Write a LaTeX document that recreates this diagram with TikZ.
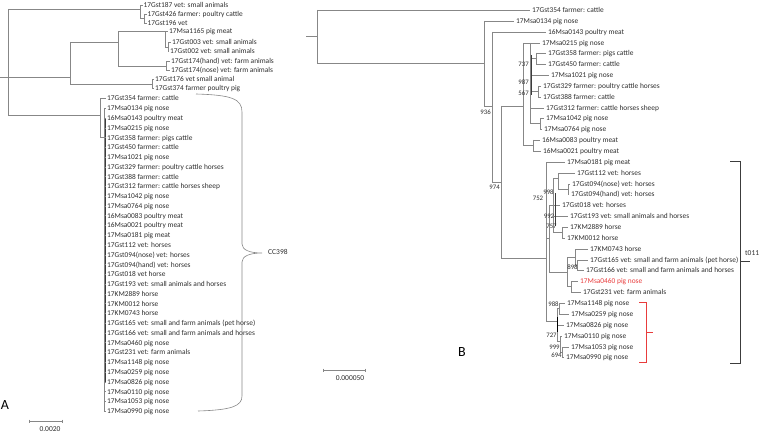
\documentclass[tikz,border=0pt]{standalone}
\usepackage{fontspec}
\setmainfont{Carlito}
\definecolor{tg}{RGB}{135,135,135}
\definecolor{tgd}{RGB}{60,60,60}
\definecolor{tx}{RGB}{45,45,45}
\definecolor{rd}{RGB}{232,60,60}
\begin{document}
\begin{tikzpicture}[x=1pt,y=-1pt,
  br/.style={draw=tg,line width=0.6pt},
  brd/.style={draw=tgd,line width=0.6pt},
  lf/.style={anchor=west,inner sep=0pt,text=tx,font=\fontsize{7.4}{8}\selectfont,text height=4.8pt,text depth=1.5pt,yshift=-0.8pt},
  bs/.style={inner sep=0pt,text=tx,font=\fontsize{6.8}{7}\selectfont},
  pl/.style={inner sep=0pt,text=black,font=\fontsize{14}{16}\selectfont},
  sc/.style={inner sep=0pt,text=tx,font=\fontsize{7.5}{8}\selectfont}]
\useasboundingbox (0,0) rectangle (760,433);

% ================= Panel A =================
\draw[br] (0,77) -- (70,77);
\draw[br] (8,9) -- (8,115);
% top cluster
\draw[br] (8,9) -- (140,9) (140,5) -- (140,18.5) (140,5) -- (142.5,5)
  (140,18.5) -- (144,18.5) (144,14) -- (144,23) (144,14) -- (146.5,14) (144,23) -- (146.5,23);
\node[lf] (a1) at (143.5,5) {17Gst187 vet: small animals};
\node[lf] (a2) at (147.5,14) {17Gst426 farmer: poultry cattle};
\node[lf] (a3) at (147.5,23) {17Gst196 vet};
% middle clade
\draw[br] (70,42) -- (70,84) (70,42) -- (118,42) (118,31.5) -- (118,66)
  (118,31.5) -- (165,31.5) (165,31.5) -- (165,47) (165,31.5) -- (168,31.5)
  (165,47) -- (168,47) (168,42.5) -- (168,51.5) (168,42.5) -- (171,42.5) (168,51.5) -- (169,51.5)
  (118,66) -- (166,66) (166,61.5) -- (166,70.5) (166,61.5) -- (170,61.5) (166,70.5) -- (170,70.5)
  (70,84) -- (152,84) (152,79.5) -- (152,88.5) (152,79.5) -- (154,79.5) (152,88.5) -- (154,88.5);
\node[lf] (a4) at (169,31.5) {17Msa1165 pig meat};
\node[lf] (a5) at (172,42.5) {17Gst003 vet: small animals};
\node[lf] (a6) at (170,51.5) {17Gst002 vet: small animals};
\node[lf] (a7) at (171,61.5) {17Gst174(hand) vet: farm animals};
\node[lf] (a8) at (171,70.5) {17Gst174(nose) vet: farm animals};
\node[lf] (a9) at (155,79.5) {17Gst176 vet small animal};
\node[lf] (a10) at (155,88.5) {17Gst374 farmer poultry pig};
% CC398 cluster
\draw[br] (8,115) -- (100,115) (100,98.5) -- (100,137) (100,98.5) -- (106,98.5)
  (100,137) -- (104,137) (104,108.3) -- (104,411);
\draw[brd] (105.2,118) -- (105.2,382);
\foreach \t [count=\i] in {17Gst354 farmer: cattle, 17Msa0134 pig nose, 16Msa0143 poultry meat,
  17Msa0215 pig nose, 17Gst358 farmer: pigs cattle, 17Gst450 farmer: cattle, 17Msa1021 pig nose,
  17Gst329 farmer: poultry cattle horses, 17Gst388 farmer: cattle, 17Gst312 farmer: cattle horses sheep,
  17Msa1042 pig nose, 17Msa0764 pig nose, 16Msa0083 poultry meat, 16Msa0021 poultry meat,
  17Msa0181 pig meat, 17Gst112 vet: horses, 17Gst094(nose) vet: horses, 17Gst094(hand) vet: horses,
  17Gst018 vet horse, 17Gst193 vet: small animals and horses, 17KM2889 horse, 17KM0012 horse,
  17KM0743 horse, 17Gst165 vet: small and farm animals (pet horse),
  17Gst166 vet: small and farm animals and horses, 17Msa0460 pig nose, 17Gst231 vet: farm animals,
  17Msa1148 pig nose, 17Msa0259 pig nose, 17Msa0826 pig nose, 17Msa0110 pig nose,
  17Msa1053 pig nose, 17Msa0990 pig nose} {
  \pgfmathsetmacro\yy{98.5+(\i-1)*9.77}
  \ifnum\i>1 \draw[br] (104,\yy) -- (106,\yy); \fi
  \node[lf] (c\i) at (107,\yy) {\t};
}
% brace
\draw[br] (196,94) .. controls (232,95) and (242,99) .. (242,112) -- (242,244)
  .. controls (242,250) and (250,253) .. (262,253) .. controls (250,253) and (242,256) .. (242,262)
  -- (242,396) .. controls (242,406) and (232,410) .. (198,411);
\node[sc,anchor=west] (cc) at (268,252) {CC398};
% label and scale
\node[pl] (labA) at (5,405) {A};
\draw[br] (29,421) -- (62,421) (29,419.5) -- (29,422.5) (62,419.5) -- (62,422.5);
\node[sc] (sA) at (50,429) {0.0020};

% ================= Panel B =================
\draw[br] (306,36) -- (317,36) (317,10) -- (317,63) (317,10) -- (530,10) (317,63) -- (484,63)
  (484,21) -- (484,106) (484,21) -- (514,21) (484,106) -- (492,106)
  (492,32) -- (492,182) (492,32) -- (546,32) (492,182) -- (501,182)
  (501,106) -- (501,258) (501,106) -- (523,106) (501,258) -- (546,258)
  (523,43) -- (523,145.5) (523,43) -- (540,43) (523,145.5) -- (533,145.5)
  (530,43) -- (530,123.5)
  (530,58.5) -- (536,58.5) (536,53) -- (536,64) (536,53) -- (546,53) (536,64) -- (546,64)
  (530,75) -- (549,75)
  (530,91.5) -- (538,91.5) (538,86) -- (538,97) (538,86) -- (541,86) (538,97) -- (541,97)
  (530,108) -- (544,108)
  (530,123.5) -- (540,123.5) (540,118) -- (540,129) (540,118) -- (544,118) (540,129) -- (542,129)
  (533,140) -- (533,151) (533,140) -- (540,140) (533,151) -- (541,151);
\draw[brd] (531.5,55) -- (531.5,95);
% lower clade
\draw[br] (546,162) -- (546,321) (546,162) -- (565,162)
  (553,178) -- (553,232.5) (553,178) -- (558,178) (558,173) -- (558,189) (558,173) -- (575,173)
  (558,189) -- (568,189) (568,184) -- (568,194) (568,184) -- (570,184) (568,194) -- (569,194)
  (553,205) -- (560,205) (553,216) -- (568,216)
  (553,232.5) -- (562,232.5) (562,227) -- (562,238) (562,227) -- (568,227) (562,238) -- (565,238)
  (549,205) -- (549,272) (549,205) -- (553,205) (546,238.5) -- (549,238.5) (549,272) -- (567,272)
  (567,257.5) -- (567,286.5) (567,257.5) -- (575,257.5) (575,249) -- (575,265) (575,249) -- (588,249)
  (575,265) -- (577,265) (577,260) -- (577,270) (577,260) -- (588,260) (577,270) -- (584,270)
  (567,286.5) -- (571,286.5) (571,281) -- (571,292) (571,281) -- (578,281) (571,292) -- (581,292)
  (546,321) -- (557,321) (557,308.5) -- (557,341)
  (557,308.5) -- (559,308.5) (559,303) -- (559,314) (559,303) -- (565,303) (559,314) -- (569,314)
  (557,325) -- (564,325)
  (557,341) -- (560,341) (560,336) -- (560,352) (560,336) -- (562,336) (560,352) -- (562,352)
  (562,347) -- (562,357) (562,347) -- (569,347) (562,357) -- (564,357);
\draw[brd] (555,193) -- (555,226);
\draw[draw=black,line width=0.7pt] (557.6,317) -- (557.6,332);
% leaves B
\foreach \x/\y/\t [count=\i] in {532/10/17Gst354 farmer: cattle, 516/21/17Msa0134 pig nose,
  548/32/16Msa0143 poultry meat, 542/43/17Msa0215 pig nose, 548/53/17Gst358 farmer: pigs cattle,
  548/64/17Gst450 farmer: cattle, 551/75/17Msa1021 pig nose, 543/86/17Gst329 farmer: poultry cattle horses,
  543/97/17Gst388 farmer: cattle, 546/108/17Gst312 farmer: cattle horses sheep,
  546/118/17Msa1042 pig nose, 544/129/17Msa0764 pig nose, 542/140/16Msa0083 poultry meat,
  543/151/16Msa0021 poultry meat, 567/162/17Msa0181 pig meat, 577/173/17Gst112 vet: horses,
  572/184/17Gst094(nose) vet: horses, 571/194/17Gst094(hand) vet: horses, 562/205/17Gst018 vet: horses,
  570/216/17Gst193 vet: small animals and horses, 570/227/17KM2889 horse, 567/238/17KM0012 horse,
  590/249/17KM0743 horse, 590/260/17Gst165 vet: small and farm animals (pet horse),
  586/270/17Gst166 vet: small and farm animals and horses, 583/292/17Gst231 vet: farm animals,
  567/303/17Msa1148 pig nose, 571/314/17Msa0259 pig nose, 566/325/17Msa0826 pig nose,
  564/336/17Msa0110 pig nose, 571/347/17Msa1053 pig nose, 566/357/17Msa0990 pig nose} {
  \node[lf] (b\i) at (\x,\y) {\t};
}
\node[lf,text=rd] (bred) at (580,281) {17Msa0460 pig nose};
% bootstrap values
\node[bs,anchor=east] (v936) at (491,112) {936};
\node[bs,anchor=east] (v974) at (500,187) {974};
\node[bs,anchor=east] (v737) at (529,64) {737};
\node[bs,anchor=east] (v987) at (529,82) {987};
\node[bs,anchor=east] (v567) at (529,93) {567};
\node[bs] (v752) at (538,198) {752};
\node[bs] (v998) at (548.5,192.5) {998};
\node[bs] (v992) at (549,216) {992};
\node[bs] (v757) at (551.5,226) {757};
\node[bs] (v898) at (572.5,267) {898};
\node[bs] (v988) at (553.5,304) {988};
\node[bs] (v727) at (551.5,335) {727};
\node[bs] (v999) at (554.5,347) {999};
\node[bs] (v694) at (556.5,355) {694};
% brackets
\draw[draw=rd,line width=0.6pt] (639,302) -- (646,302) -- (646,362) -- (639,362) (646,332) -- (653,332);
\draw[draw=tgd,line width=0.6pt] (730,161) -- (740,161) -- (740,363) -- (730,363) (740,261) -- (750,261);
\node[sc,anchor=west] (t011) at (745,253) {t011};
% label and scale
\node[pl] (labB) at (462,352) {B};
\draw[br] (323,370) -- (365,370) (323,368.5) -- (323,371.5) (365,368.5) -- (365,371.5);
\node[sc] (sB) at (350,378) {0.000050};
\end{tikzpicture}
\end{document}
